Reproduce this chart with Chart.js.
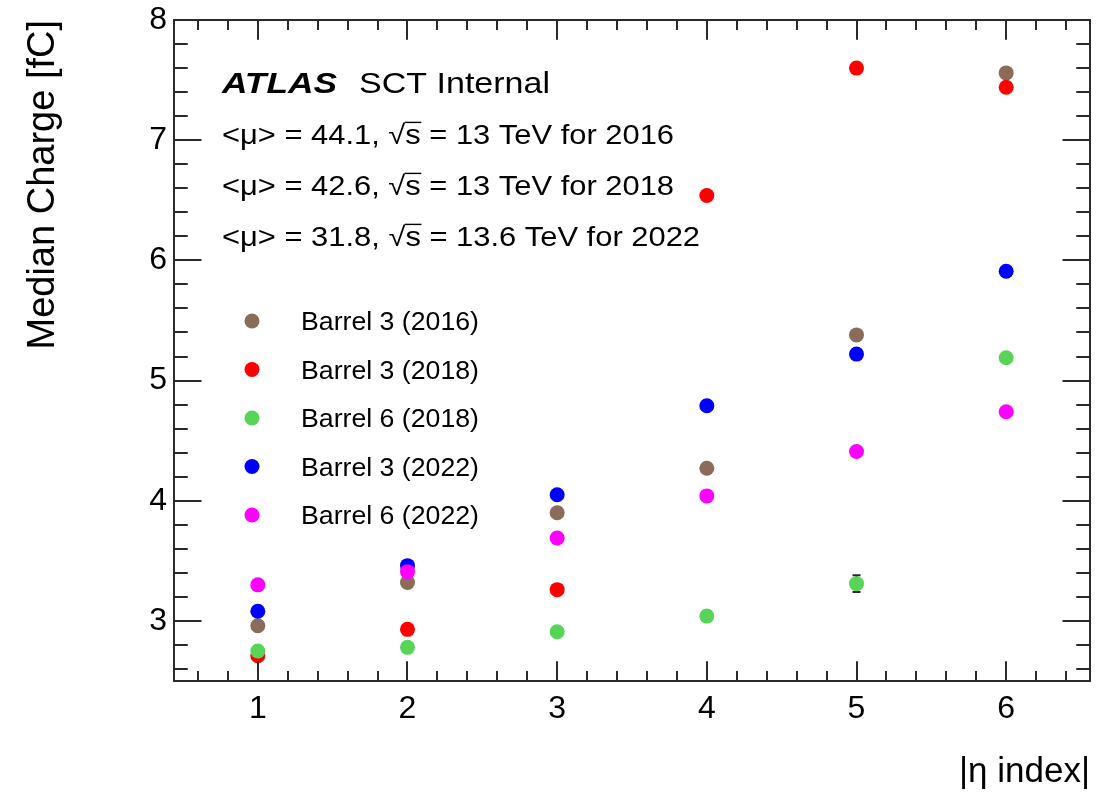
<!DOCTYPE html>
<html>
<head>
<meta charset="utf-8">
<script src="https://cdn.jsdelivr.net/npm/chart.js@4.4.0/dist/chart.umd.min.js"></script>
<style>
  html, body { margin: 0; padding: 0; background: #fff; }
  canvas { display: block; }
</style>
</head>
<body>
<canvas id="chartContainer" width="1117" height="793"></canvas>
<script>
"use strict";

// 1: data
const etaIndex = [1, 2, 3, 4, 5, 6];
const xTicks = [1, 2, 3, 4, 5, 6];
const yTicks = [3, 4, 5, 6, 7, 8];

const barrel3_2016 = [2.96, 3.32, 3.90, 4.27, 5.38, 7.56];
const barrel3_2018 = [2.71, 2.93, 3.26, 6.54, 7.60, 7.44];
const barrel6_2018 = [2.75, 2.78, 2.91, 3.04, 3.31, 5.19];
const barrel3_2022 = [3.08, 3.46, 4.05, 4.79, 5.22, 5.91];
const barrel6_2022 = [3.30, 3.41, 3.69, 4.04, 4.41, 4.74];
const barrel6_2018_err = [0, 0, 0, 0, 0.07, 0];

const seriesLabels = ['Barrel 3 (2016)', 'Barrel 3 (2018)', 'Barrel 6 (2018)', 'Barrel 3 (2022)', 'Barrel 6 (2022)'];
const seriesColors = ['#8b6b5a', '#ff0000', '#58d558', '#0000ff', '#ff00ff'];

const headerLines = [
  '<\u03bc> = 44.1, \u221as = 13 TeV for 2016',
  '<\u03bc> = 42.6, \u221as = 13 TeV for 2018',
  '<\u03bc> = 31.8, \u221as = 13.6 TeV for 2022'
];

const FONT = '"Liberation Sans", Arial, Helvetica, sans-serif';
const LINE = '#2a2a2a';

// 2: helpers
function toPoints(values) {
  return etaIndex.map((x, i) => ({ x: x, y: values[i] }));
}

function stepValues(min, max, step) {
  const out = [];
  for (let v = Math.ceil(min / step - 1e-9) * step; v <= max + 1e-9; v += step) {
    out.push(Math.round(v * 1000) / 1000);
  }
  return out;
}

// draws text stretched horizontally to a given width
function drawFitted(ctx, text, x, y, size, width, style) {
  ctx.save();
  ctx.font = (style || '') + ' ' + size + 'px ' + FONT;
  const w = ctx.measureText(text).width;
  const sx = width ? width / w : 1;
  ctx.translate(x, y);
  ctx.scale(sx, 1);
  ctx.fillStyle = '#000';
  ctx.textBaseline = 'alphabetic';
  ctx.textAlign = 'left';
  ctx.fillText(text, 0, 0);
  // bar over the s of the square root
  const k = text.indexOf('\u221a');
  if (k >= 0) {
    const x0 = ctx.measureText(text.slice(0, k + 1)).width;
    const ws = ctx.measureText('s').width;
    ctx.strokeStyle = '#000';
    ctx.lineWidth = 1.4;
    ctx.beginPath();
    ctx.moveTo(x0 - 0.5, -size * 0.8);
    ctx.lineTo(x0 + ws + 0.5, -size * 0.8);
    ctx.stroke();
  }
  ctx.restore();
}

// 3: plugins
const errorBars = {
  id: 'errorBars',
  beforeDatasetsDraw(chart) {
    const ctx = chart.ctx;
    const xs = chart.scales.x, ys = chart.scales.y;
    ctx.save();
    ctx.strokeStyle = LINE;
    ctx.lineWidth = 2;
    chart.data.datasets.forEach(ds => {
      if (!ds.errors) return;
      ds.data.forEach((p, i) => {
        const e = ds.errors[i];
        if (!e) return;
        const px = xs.getPixelForValue(p.x);
        const lo = ys.getPixelForValue(p.y - e);
        const hi = ys.getPixelForValue(p.y + e);
        ctx.beginPath();
        ctx.moveTo(px, lo); ctx.lineTo(px, hi);
        ctx.moveTo(px - 4, lo); ctx.lineTo(px + 4, lo);
        ctx.moveTo(px - 4, hi); ctx.lineTo(px + 4, hi);
        ctx.stroke();
      });
    });
    ctx.restore();
  }
};

const frameTicks = {
  id: 'frameTicks',
  afterDraw(chart) {
    const ctx = chart.ctx;
    const a = chart.chartArea;
    const xs = chart.scales.x, ys = chart.scales.y;
    const xMajor = 0.03 * (a.bottom - a.top);
    const yMajor = 0.03 * (a.right - a.left);
    ctx.save();
    ctx.strokeStyle = LINE;
    ctx.lineWidth = 2;
    ctx.beginPath();
    stepValues(xs.min, xs.max, 0.2).forEach(v => {
      const len = xTicks.includes(v) ? xMajor : xMajor / 2;
      const px = Math.round(xs.getPixelForValue(v));
      ctx.moveTo(px, a.bottom); ctx.lineTo(px, a.bottom - len);
      ctx.moveTo(px, a.top); ctx.lineTo(px, a.top + len);
    });
    stepValues(ys.min, ys.max, 0.2).forEach(v => {
      const len = yTicks.includes(v) ? yMajor : yMajor / 2;
      const py = Math.round(ys.getPixelForValue(v));
      ctx.moveTo(a.left, py); ctx.lineTo(a.left + len, py);
      ctx.moveTo(a.right, py); ctx.lineTo(a.right - len, py);
    });
    ctx.stroke();
    ctx.strokeRect(a.left, a.top, a.right - a.left, a.bottom - a.top);
    ctx.restore();
  }
};

const textBoxes = {
  id: 'textBoxes',
  afterDraw(chart) {
    const ctx = chart.ctx;
    // ATLAS label and run conditions
    drawFitted(ctx, 'ATLAS', 222, 93, 29, 115, 'italic bold');
    drawFitted(ctx, 'SCT Internal', 359, 93, 29, 191);
    drawFitted(ctx, headerLines[0], 222, 144, 27, 452);
    drawFitted(ctx, headerLines[1], 222, 195, 27, 452);
    drawFitted(ctx, headerLines[2], 222, 246, 27, 478);
    // legend
    chart.data.datasets.forEach((ds, i) => {
      const cy = 321 + i * 48.5;
      ctx.save();
      ctx.fillStyle = ds.backgroundColor;
      ctx.beginPath();
      ctx.arc(252, cy, 7.5, 0, Math.PI * 2);
      ctx.fill();
      ctx.restore();
      drawFitted(ctx, ds.label, 301, cy + 9, 25, 178);
    });
  }
};

// 4: create chart
function appendChart() {
  const series = [barrel3_2016, barrel3_2018, barrel6_2018, barrel3_2022, barrel6_2022];
  const datasets = series.map((values, i) => ({
    label: seriesLabels[i],
    data: toPoints(values),
    backgroundColor: seriesColors[i],
    borderWidth: 0,
    pointRadius: 7.5,
    pointHoverRadius: 7.5,
    order: series.length - i
  }));
  datasets[2].errors = barrel6_2018_err;

  const chartContainer = document.getElementById('chartContainer');
  new Chart(chartContainer, {
    type: 'scatter',
    data: { datasets },
    options: {
      responsive: false,
      animation: false,
      devicePixelRatio: 1,
      layout: { padding: { left: 0, right: 27, top: 20, bottom: 0 } },
      plugins: {
        legend: { display: false },
        tooltip: { enabled: false }
      },
      scales: {
        x: {
          type: 'linear',
          min: 0.44,
          max: 6.56,
          afterBuildTicks: s => { s.ticks = xTicks.map(v => ({ value: v })); },
          afterFit: s => { s.height = 112; },
          grid: { display: false, drawTicks: false },
          border: { display: false },
          ticks: { color: '#000', padding: 9, maxRotation: 0, autoSkip: false,
                   font: { family: FONT, size: 32 } },
          title: { display: true, text: '|\u03b7 index|', align: 'end', color: '#000',
                   padding: { top: 0, bottom: 0 }, font: { family: FONT, size: 35 } }
        },
        y: {
          type: 'linear',
          min: 2.5,
          max: 8,
          afterBuildTicks: s => { s.ticks = yTicks.map(v => ({ value: v })); },
          afterFit: s => { s.width = 174; },
          grid: { display: false, drawTicks: false },
          border: { display: false },
          ticks: { color: '#000', padding: 7, autoSkip: false,
                   font: { family: FONT, size: 32, lineHeight: 0.8 } },
          title: { display: true, text: 'Median Charge [fC]', align: 'end', color: '#000',
                   padding: { top: 21, bottom: 0 }, font: { family: FONT, size: 38 } }
        }
      }
    },
    plugins: [errorBars, frameTicks, textBoxes]
  });
}

appendChart();
</script>
</body>
</html>
